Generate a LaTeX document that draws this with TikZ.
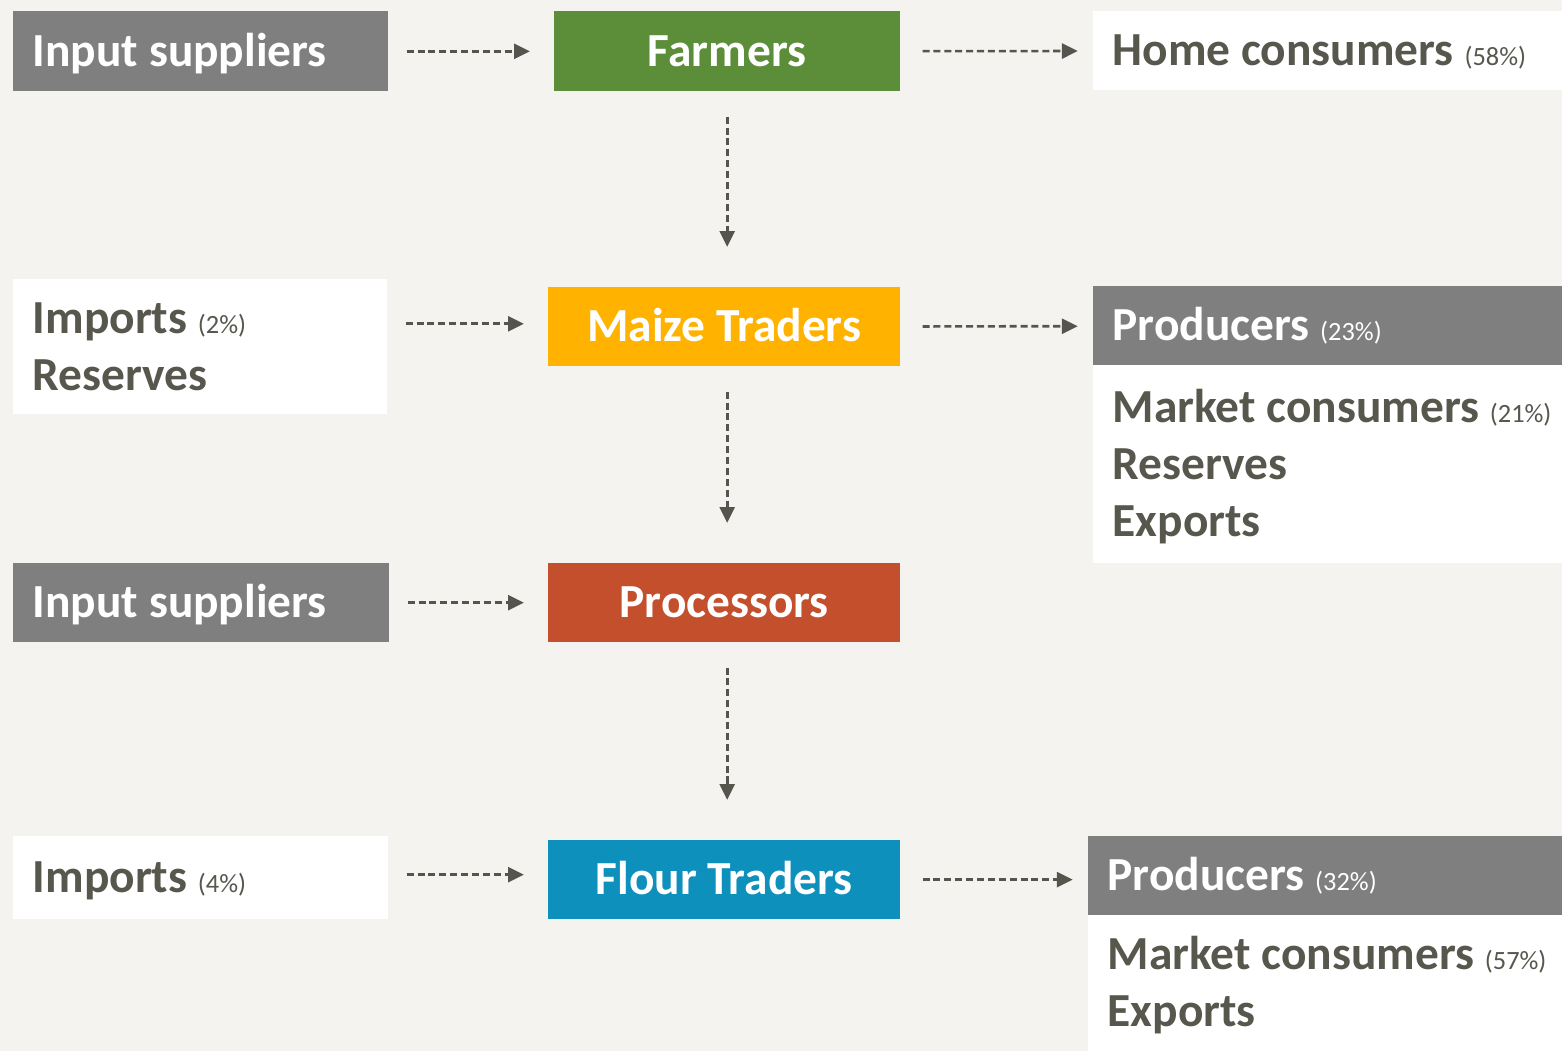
\documentclass[tikz,border=0pt]{standalone}
\usepackage{fontspec}
\setmainfont{Carlito}
\usetikzlibrary{arrows.meta}

\definecolor{paper}{HTML}{F4F3EF}
\definecolor{boxgrey}{HTML}{7F7F7F}
\definecolor{textdark}{HTML}{57574D}
\definecolor{arrowgrey}{HTML}{55554D}
\definecolor{farmgreen}{HTML}{5C8E3A}
\definecolor{maizeamber}{HTML}{FFB300}
\definecolor{procred}{HTML}{C44F2D}
\definecolor{flourblue}{HTML}{0E90BC}

% small share figure after a label
\newcommand{\pshare}[1]{{\fontsize{15pt}{18pt}\selectfont\mdseries(#1\%)}}

\tikzset{
  box/.style={rectangle, anchor=north west, inner xsep=0.39cm, inner ysep=0pt,
    font=\fontsize{27pt}{32.5pt}\selectfont\bfseries,
    text height=17pt, text depth=0pt, minimum height=1.58cm},
  stage/.style={box, fill=#1, text=white, align=center},
  sidebox/.style={box, text width=#1-0.78cm, align=flush left},
  greybox/.style={sidebox=#1, fill=boxgrey, text=white},
  whitebox/.style={sidebox=#1, fill=white, text=textdark},
  flow/.style={draw=arrowgrey, line width=1.5pt, dash pattern=on 4pt off 2.2pt,
    -{Triangle[length=9pt,width=8.5pt]}},
  flowin/.style={flow, shorten <=0.36cm, shorten >=0.48cm},
  flowout/.style={flow, shorten <=0.44cm, shorten >=0.3cm},
  flowdown/.style={flow, shorten <=0.5cm, shorten >=0.8cm}
}

\begin{document}
\begin{tikzpicture}[y=-1cm]
    \fill[paper] (0,0) rectangle (31.24,21.02);

    % first row
    \node[greybox=7.5cm, minimum height=1.6cm] (in1) at (0.26,0.22) {Input suppliers};
    \node[stage=farmgreen, minimum width=6.92cm, minimum height=1.6cm] (farm) at (11.08,0.22) {Farmers};
    \node[whitebox=9.38cm] (home) at (21.86,0.22) {\mbox{Home consumers \pshare{58}}};

    % second row
    \node[whitebox=7.48cm, minimum height=2.7cm, text depth=32.5pt] (imp1) at (0.26,5.58) {\mbox{Imports \pshare{2}}\\Reserves};
    \node[stage=maizeamber, minimum width=7.04cm] (maize) at (10.96,5.74) {Maize Traders};
    \node[greybox=9.38cm] (prod1) at (21.86,5.72) {\mbox{Producers \pshare{23}}};
    \node[whitebox=9.38cm, minimum height=3.96cm, text depth=65pt] (out1) at (21.86,7.30)
        {\mbox{Market consumers \pshare{21}}\\Reserves\\Exports};

    % third row
    \node[greybox=7.52cm] (in2) at (0.26,11.26) {Input suppliers};
    \node[stage=procred, minimum width=7.04cm] (proc) at (10.96,11.26) {Processors};

    % fourth row
    \node[whitebox=7.5cm, minimum height=1.66cm] (imp2) at (0.26,16.72) {\mbox{Imports \pshare{4}}};
    \node[stage=flourblue, minimum width=7.04cm] (flour) at (10.96,16.8) {Flour Traders};
    \node[greybox=9.48cm] (prod2) at (21.76,16.72) {\mbox{Producers \pshare{32}}};
    \node[whitebox=9.48cm, minimum height=2.72cm, text depth=32.5pt] (out2) at (21.76,18.30)
        {\mbox{Market consumers \pshare{57}}\\Exports};

    % flows into the chain
    \draw[flowin] (in1) -- (farm);
    \draw[flowin] ([yshift=0.06cm]imp1.east |- maize.west) -- ([yshift=0.06cm]maize.west);
    \draw[flowin] (in2) -- (proc);
    \draw[flowin] ([yshift=0.1cm]imp2.east |- flour.west) -- ([yshift=0.1cm]flour.west);

    % flows out of the chain
    \draw[flowout] (farm) -- (home);
    \draw[flowout] (maize) -- (prod1);
    \draw[flowout] (flour.east) -- (flour.east -| prod2.west);

    % down the chain
    \draw[flowdown] (farm.south) -- (farm.south |- maize.north);
    \draw[flowdown] (farm.south |- maize.south) -- (farm.south |- proc.north);
    \draw[flowdown] (farm.south |- proc.south) -- (farm.south |- flour.north);
\end{tikzpicture}
\end{document}
